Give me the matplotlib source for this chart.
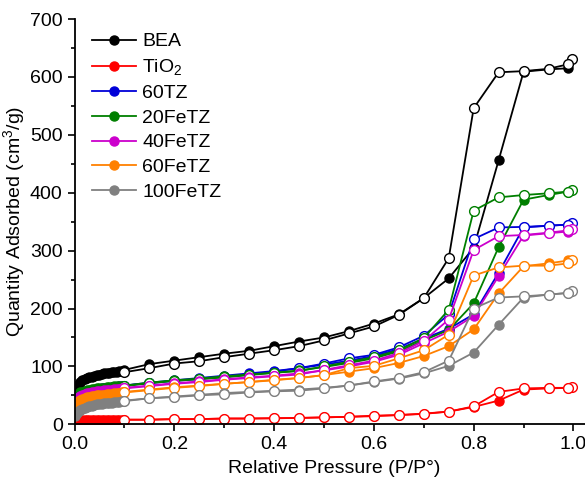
import matplotlib
matplotlib.use('Agg')
import matplotlib.pyplot as plt
from matplotlib.ticker import MultipleLocator

plt.rcParams['font.family'] = ['Liberation Sans', 'DejaVu Sans']
plt.rcParams['mathtext.default'] = 'regular'

# relative pressure of the adsorption branch (dense points at low P/P0)
ads_p = [0.001, 0.003, 0.005, 0.008, 0.011, 0.015, 0.02, 0.025, 0.03, 0.035, 0.04,
         0.045, 0.05, 0.055, 0.06, 0.065, 0.07, 0.075, 0.08, 0.085, 0.09, 0.095,
         0.1, 0.15, 0.2, 0.25, 0.3, 0.35, 0.4, 0.45, 0.5, 0.55, 0.6, 0.65, 0.7,
         0.75, 0.8, 0.85, 0.9, 0.95, 0.99]
# relative pressure of the desorption branch
des_p = [0.998, 0.99, 0.95, 0.9, 0.85, 0.8, 0.75, 0.7, 0.65, 0.6, 0.55, 0.5,
         0.45, 0.4, 0.35, 0.3, 0.25, 0.2, 0.15, 0.1]

names = ['BEA', 'TiO$_2$', '60TZ', '20FeTZ', '40FeTZ', '60FeTZ', '100FeTZ']
colors = ['black', '#ff0000', '#0000d8', '#007f00', '#cc00cc', '#ff8000', '#808080']

# adsorbed quantity (cm3/g)
bea_ads = [55, 62, 66, 70, 73, 76, 78, 80, 81, 82.5, 84, 85, 86, 87, 88, 88.5, 89, 90, 90.5, 91, 91.5, 92,
           94, 104, 110, 116, 122, 127, 135, 143, 150, 161, 174, 190, 218, 252, 305, 456, 609, 613, 615]
bea_des = [631, 622, 614, 610, 608, 546, 287, 218, 189, 169, 157, 145, 135, 128, 122, 116, 109, 105, 97, 90]

tio2_ads = [5, 6, 7, 7.5, 8, 8, 8, 8, 8, 8, 8, 8, 8, 8, 8, 8, 8, 8, 8, 8, 8, 8,
            8, 8, 9, 9, 10, 10, 10.5, 11, 12, 13, 14, 16, 18, 22, 30, 41, 60, 62, 63]
tio2_des = [65, 63, 63, 62, 56, 31, 22, 18.5, 16, 15, 13, 12, 11, 10.5, 10, 10, 9, 9, 8, 8]

tz60_ads = [42, 46, 48, 50, 52, 54, 55.5, 57, 58, 59, 60, 60.5, 61, 62, 62.5, 63, 63.5, 64, 64.5, 65, 65.5, 66,
            67, 72, 76, 80, 84, 88, 92, 97, 103, 110, 118, 130, 148, 165, 190, 262, 340, 343, 345]
tz60_des = [347, 345, 343, 341, 340, 320, 190, 153, 133, 120, 114, 105, 97, 91, 86, 82, 78, 75, 71, 67]

fetz20_ads = [45, 49, 51, 53, 55, 56.5, 58, 59, 60, 61, 61.5, 62, 62.5, 63, 63.5, 64, 64.5, 65, 65.5, 66, 66.5, 67,
              67, 72, 76, 79, 83, 86, 89, 93, 99, 106, 114, 126, 145, 163, 209, 306, 388, 396, 402]
fetz20_des = [405, 402, 399, 396, 392, 369, 198, 149, 128, 116, 108, 100, 92, 89, 85, 81, 78, 75, 71, 66]

fetz40_ads = [38, 42, 44.5, 46.5, 48.5, 50.5, 52, 53.5, 54.5, 55.5, 56.5, 57, 57.5, 58, 58.5, 59, 59.5, 60, 60.5, 61, 61.5, 62,
              63, 67, 71, 74, 78, 81, 84, 88, 93, 100, 108, 120, 140, 160, 187, 256, 326, 330, 333]
fetz40_des = [338, 335, 331, 327, 325, 301, 181, 144, 123, 110, 102, 94, 86, 83, 80, 77, 73, 70, 66, 62]

fetz60_ads = [30, 34, 37, 39.5, 41.5, 43.5, 45, 46.5, 47.5, 48.5, 49.5, 50, 50.5, 51, 51.5, 52, 52.5, 53, 53.5, 54, 54.5, 55,
              56, 60, 64, 67, 70, 73, 76, 80, 85, 91, 97, 106, 118, 135, 164, 226, 273, 278, 283]
fetz60_des = [284, 278, 274, 274, 271, 257, 155, 128, 114, 101, 97, 85, 80, 77, 73, 70, 66, 63, 59, 55]

fetz100_ads = [15, 18, 20, 23, 25, 27, 29, 30.5, 31.5, 32.5, 33.5, 34.5, 35, 35.5, 36, 36.5, 37, 37.5, 38, 38.5, 39, 39.5,
               41, 45, 48, 51, 54, 56, 58, 60, 63, 67, 73, 79, 88, 101, 124, 172, 219, 224, 227]
fetz100_des = [230, 227, 224, 221, 219, 200, 110, 90, 80, 74, 67, 62, 58, 57, 55, 52, 50, 47, 45, 40]

ads_all = [bea_ads, tio2_ads, tz60_ads, fetz20_ads, fetz40_ads, fetz60_ads, fetz100_ads]
des_all = [bea_des, tio2_des, tz60_des, fetz20_des, fetz40_des, fetz60_des, fetz100_des]

fig = plt.figure(figsize=(5.85, 4.84), dpi=100)
# axes run past the right edge like the cropped original
ax = fig.add_axes([0.1274, 0.1233, 0.887, 0.8374])

handles = []
for name, c, ya, yd in zip(names, colors, ads_all, des_all):
    h, = ax.plot(ads_p, ya, '-o', color=c, lw=1.3, ms=6.5, mfc=c, mec=c, label=name)
    ax.plot(des_p, yd, '-o', color=c, lw=1.3, ms=7, mfc='white', mec=c, mew=1.0)
    handles.append(h)

ax.set_xlim(0, 1.04)
ax.set_ylim(0, 700)
ax.xaxis.set_major_locator(MultipleLocator(0.2))
ax.xaxis.set_minor_locator(MultipleLocator(0.1))
ax.yaxis.set_major_locator(MultipleLocator(100))
ax.yaxis.set_minor_locator(MultipleLocator(50))
ax.tick_params(which='major', direction='out', length=5, width=1.2, labelsize=14)
ax.tick_params(which='minor', direction='out', length=3, width=1.2)
ax.spines['top'].set_visible(False)
ax.spines['right'].set_visible(False)
ax.spines['left'].set_linewidth(1.3)
ax.spines['bottom'].set_linewidth(1.3)

ax.set_xlabel('Relative Pressure (P/P°)', fontsize=14, labelpad=5)
ax.set_ylabel('Quantity Adsorbed (cm$^3$/g)', fontsize=14, labelpad=2)

ax.legend(handles=handles, loc='upper left', bbox_to_anchor=(0.018, 0.985), frameon=False,
          fontsize=14, handlelength=2.3, handletextpad=0.3, labelspacing=0.36, borderaxespad=0)

plt.savefig('out.png', dpi=100)
